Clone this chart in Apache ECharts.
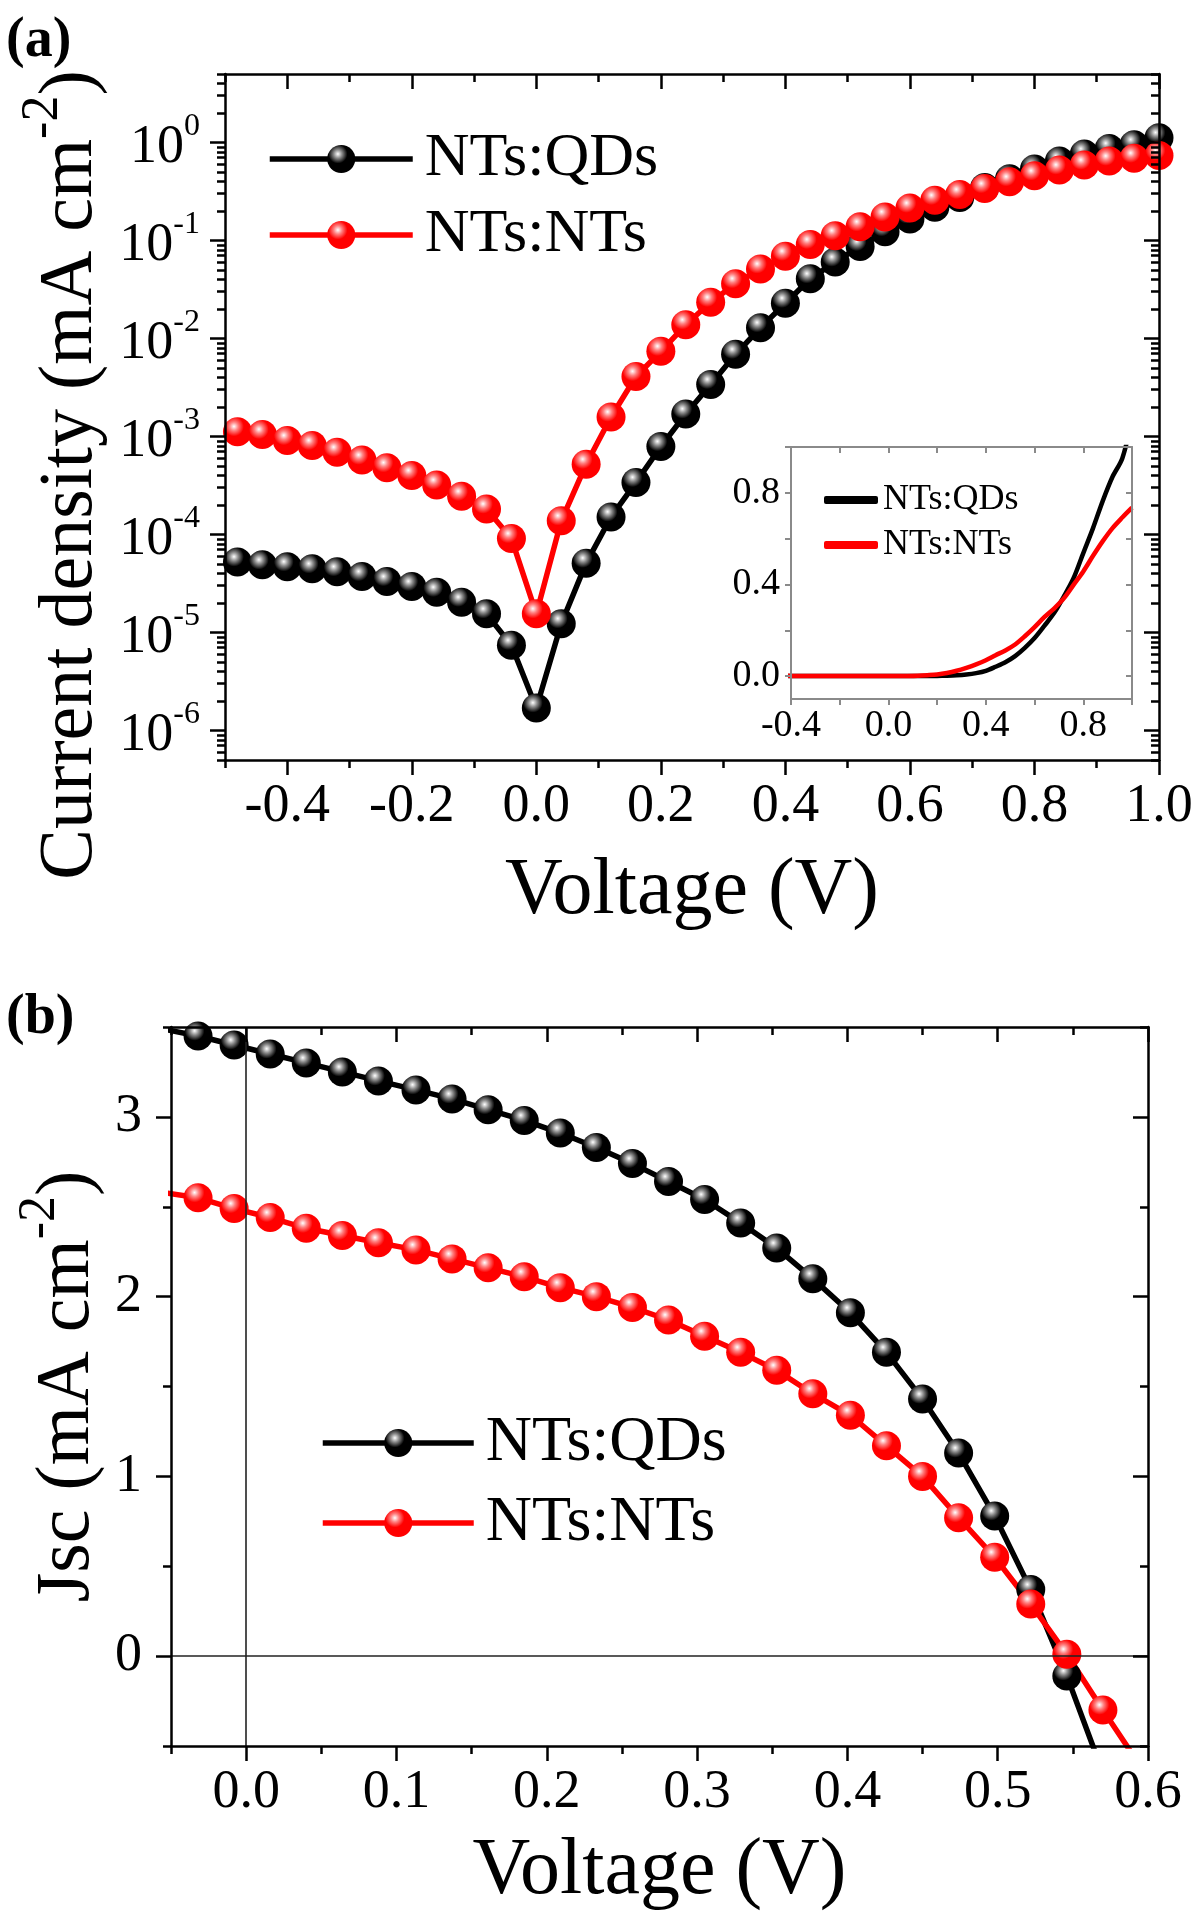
<!DOCTYPE html>
<html><head><meta charset="utf-8">
<script src="https://cdn.jsdelivr.net/npm/echarts@6/dist/echarts.min.js"></script>
<style>html,body{margin:0;padding:0;background:#fff;}#chart{width:1200px;height:1918px;}</style>
</head><body><div id="chart"></div>
<script>
// ---------- Panel (a): J-V, log scale ----------
const seriesNames = ['NTs:QDs', 'NTs:NTs'];
const voltageA = [-0.48,-0.44,-0.40,-0.36,-0.32,-0.28,-0.24,-0.20,-0.16,-0.12,-0.08,-0.04,0.00,0.04,0.08,0.12,0.16,0.20,0.24,0.28,0.32,0.36,0.40,0.44,0.48,0.52,0.56,0.60,0.64,0.68,0.72,0.76,0.80,0.84,0.88,0.92,0.96,1.00];
const currentQDsA = [5.25e-5,4.9e-5,4.68e-5,4.47e-5,4.17e-5,3.72e-5,3.31e-5,2.95e-5,2.57e-5,2.04e-5,1.55e-5,7.4e-6,1.7e-6,1.23e-5,5.1e-5,1.51e-4,3.4e-4,7.9e-4,1.7e-3,3.4e-3,6.9e-3,0.0129,0.0229,0.0407,0.0603,0.0871,0.123,0.166,0.219,0.275,0.347,0.427,0.537,0.646,0.765,0.87,0.95,1.12];
const currentNTsA = [1.12e-3,1.05e-3,9.1e-4,8.1e-4,6.9e-4,5.75e-4,4.8e-4,4.0e-4,3.2e-4,2.45e-4,1.82e-4,9.1e-5,1.55e-5,1.38e-4,5.2e-4,1.58e-3,4.1e-3,7.4e-3,0.0138,0.0234,0.0363,0.0513,0.0692,0.0912,0.112,0.138,0.174,0.214,0.257,0.295,0.339,0.398,0.457,0.525,0.589,0.646,0.692,0.735];
const xRangeA = [-0.5, 1.0];
const yRangeA = [5e-7, 5];
const xTicksA = [-0.4,-0.2,0,0.2,0.4,0.6,0.8,1.0];
const xMinorA = [-0.5,-0.3,-0.1,0.1,0.3,0.5,0.7,0.9];
const yDecadesA = [-6,-5,-4,-3,-2,-1,0];
// inset (linear)
const xRangeIn = [-0.4, 1.0];
const yRangeIn = [-0.1, 1.0];
const xTicksIn = [-0.4,-0.2,0,0.2,0.4,0.6,0.8,1.0];
const xLabelsIn = [-0.4,0,0.4,0.8];
const yTicksIn = [0,0.2,0.4,0.6,0.8,1.0];
const yLabelsIn = [0,0.4,0.8];
// ---------- Panel (b): Jsc-V ----------
const voltageB = [-0.056,-0.032,-0.008,0.016,0.040,0.064,0.088,0.113,0.137,0.161,0.185,0.209,0.233,0.257,0.281,0.305,0.329,0.353,0.377,0.402,0.426,0.450,0.474,0.498,0.522,0.546,0.570,0.594];
const jscQDs = [3.49,3.45,3.40,3.35,3.30,3.25,3.20,3.15,3.10,3.04,2.98,2.91,2.83,2.74,2.64,2.54,2.41,2.27,2.10,1.91,1.69,1.43,1.13,0.78,0.37,-0.11,-0.65];
const jscNTs = [2.58,2.55,2.49,2.44,2.38,2.34,2.30,2.26,2.21,2.16,2.11,2.05,2.00,1.94,1.87,1.78,1.69,1.59,1.46,1.34,1.17,1.00,0.77,0.55,0.29,0.01,-0.30,-0.60];
const xRangeB = [-0.05, 0.6];
const yRangeB = [-0.5, 3.5];
const xTicksB = [0,0.1,0.2,0.3,0.4,0.5,0.6];
const xMinorB = [-0.05,0.05,0.15,0.25,0.35,0.45,0.55];
const yTicksB = [0,1,2,3];
const yMinorB = [-0.5,0.5,1.5,2.5,3.5];

const FONT = 'Liberation Serif';
const lg = Math.log10;
const yMinorA = [];
for (let n = -7; n <= 0; n++) for (let k = 2; k <= 9; k++) {
  const v = lg(k) + n;
  if (v >= lg(yRangeA[0]) - 1e-9 && v <= lg(yRangeA[1]) + 1e-9) yMinorA.push(v);
}

function mkAxis(o) {
  const col = o.color || '#000', lw = o.lw || 2.5;
  return {
    type: 'value', gridIndex: o.grid, min: o.min, max: o.max, position: o.pos,
    splitLine: {show: false}, splitArea: {show: false},
    axisLine: {show: !!o.line, onZero: false, lineStyle: {color: col, width: lw}},
    axisTick: {show: true, customValues: o.ticks, inside: !!o.inside, length: o.len, lineStyle: {color: col, width: o.tw || lw}},
    minorTick: {show: false},
    axisLabel: o.labels ? {show: true, customValues: o.labels, margin: o.margin, formatter: o.fmt,
      color: '#000', fontFamily: FONT, fontSize: o.fs, rich: o.rich, hideOverlap: false} : {show: false},
    name: o.name || '', nameLocation: 'middle', nameGap: o.nameGap || 0, nameMoveOverlap: false,
    nameTextStyle: o.nameStyle || {}, silent: true, z: 10
  };
}
const f1 = v => (Math.abs(v) < 1e-9 ? 0 : v).toFixed(1);
const supRich = {
  n: {fontFamily: FONT, fontSize: 54, color: '#000', padding: [10, 0, 0, 0]},
  s: {fontFamily: FONT, fontSize: 32, color: '#000', verticalAlign: 'top'}
};
function titleRich(shift) {
  return {
    b: {fontFamily: FONT, fontSize: 76, color: '#000', padding: [16, 0, 0, shift < 0 ? -shift : 0]},
    s: {fontFamily: FONT, fontSize: 52, color: '#000', verticalAlign: 'top'},
    e: {fontFamily: FONT, fontSize: 76, color: '#000', padding: [16, shift > 0 ? shift : 0, 0, 0]}
  };
}
const yA = [lg(yRangeA[0]), lg(yRangeA[1])];
const nameStyle = {fontFamily: FONT, fontSize: 80, color: '#000'};
const yNameStyle = {fontFamily: FONT, fontSize: 76, color: '#000'};

const xAxes = [
  mkAxis({grid: 0, min: xRangeA[0], max: xRangeA[1], pos: 'bottom', line: true, ticks: xTicksA, len: 15,
    labels: xTicksA, fmt: f1, fs: 54, margin: 20, name: 'Voltage (V)', nameGap: 92, nameStyle: nameStyle}),
  mkAxis({grid: 0, min: xRangeA[0], max: xRangeA[1], pos: 'bottom', ticks: xMinorA, len: 8}),
  mkAxis({grid: 0, min: xRangeA[0], max: xRangeA[1], pos: 'top', line: true, ticks: xTicksA, len: 15, inside: true}),
  mkAxis({grid: 0, min: xRangeA[0], max: xRangeA[1], pos: 'top', ticks: xMinorA, len: 8, inside: true}),
  mkAxis({grid: 1, min: xRangeIn[0], max: xRangeIn[1], pos: 'bottom', line: true, ticks: xTicksIn, len: 6,
    color: '#8a8a8a', lw: 2, labels: xLabelsIn, fmt: f1, fs: 38, margin: 8}),
  mkAxis({grid: 1, min: xRangeIn[0], max: xRangeIn[1], pos: 'top', line: true, ticks: xTicksIn, len: 6, inside: true, color: '#8a8a8a', lw: 2}),
  mkAxis({grid: 2, min: xRangeB[0], max: xRangeB[1], pos: 'bottom', line: true, ticks: xTicksB, len: 15,
    labels: xTicksB, fmt: f1, fs: 54, margin: 20, name: 'Voltage (V)', nameGap: 86, nameStyle: nameStyle}),
  mkAxis({grid: 2, min: xRangeB[0], max: xRangeB[1], pos: 'bottom', ticks: xMinorB, len: 8}),
  mkAxis({grid: 2, min: xRangeB[0], max: xRangeB[1], pos: 'top', line: true, ticks: xTicksB, len: 15, inside: true}),
  mkAxis({grid: 2, min: xRangeB[0], max: xRangeB[1], pos: 'top', ticks: xMinorB, len: 8, inside: true})
];
const yAxes = [
  mkAxis({grid: 0, min: yA[0], max: yA[1], pos: 'left', line: true, ticks: yDecadesA, len: 15,
    labels: yDecadesA, fmt: v => '{n|10}{s|' + Math.round(v) + '}', rich: supRich, fs: 54, margin: 25,
    name: '{b|Current density (mA cm}{s|-2}{e|)}', nameGap: 116,
    nameStyle: Object.assign({rich: titleRich(116)}, yNameStyle)}),
  mkAxis({grid: 0, min: yA[0], max: yA[1], pos: 'left', ticks: yMinorA, len: 8}),
  mkAxis({grid: 0, min: yA[0], max: yA[1], pos: 'right', line: true, ticks: yDecadesA, len: 15, inside: true}),
  mkAxis({grid: 0, min: yA[0], max: yA[1], pos: 'right', ticks: yMinorA, len: 8, inside: true}),
  mkAxis({grid: 1, min: yRangeIn[0], max: yRangeIn[1], pos: 'left', line: true, ticks: yTicksIn, len: 6,
    color: '#8a8a8a', lw: 2, labels: yLabelsIn, fmt: f1, fs: 38, margin: 11}),
  mkAxis({grid: 1, min: yRangeIn[0], max: yRangeIn[1], pos: 'right', line: true, ticks: yTicksIn, len: 6, inside: true, color: '#8a8a8a', lw: 2}),
  mkAxis({grid: 2, min: yRangeB[0], max: yRangeB[1], pos: 'left', line: true, ticks: yTicksB, len: 15,
    labels: yTicksB, fmt: v => String(Math.round(v)), fs: 54, margin: 29,
    name: '{b|Jsc (mA cm}{s|-2}{e|)}', nameGap: 65,
    nameStyle: Object.assign({rich: titleRich(0)}, yNameStyle)}),
  mkAxis({grid: 2, min: yRangeB[0], max: yRangeB[1], pos: 'left', ticks: yMinorB, len: 8}),
  mkAxis({grid: 2, min: yRangeB[0], max: yRangeB[1], pos: 'right', line: true, ticks: yTicksB, len: 15, inside: true}),
  mkAxis({grid: 2, min: yRangeB[0], max: yRangeB[1], pos: 'right', ticks: yMinorB, len: 8, inside: true})
];

function sphere(base, mid) {
  return {type: 'radial', x: 0.38, y: 0.32, r: 0.68, colorStops: [
    {offset: 0, color: '#ffffff'}, {offset: 0.22, color: mid}, {offset: 0.5, color: base}, {offset: 1, color: base}]};
}
const styleBlack = sphere('#000000', '#8a8a8a');
const styleRed = sphere('#ff0000', '#ff8080');

function markerSeries(name, xi, yi, data, color, fill, extra) {
  return Object.assign({
    name: name, type: 'line', xAxisIndex: xi, yAxisIndex: yi, data: data,
    symbol: 'circle', symbolSize: 29, showAllSymbol: true, clip: true,
    lineStyle: {color: color, width: 5.5}, itemStyle: {color: fill, borderWidth: 0},
    emphasis: {disabled: true}, animation: false, z: 3
  }, extra || {});
}
function lineSeries(name, xi, yi, data, color) {
  return {name: name, type: 'line', xAxisIndex: xi, yAxisIndex: yi, data: data, symbol: 'none', showSymbol: false,
    smooth: 0.3, clip: true, lineStyle: {color: color, width: 4.5}, itemStyle: {color: color},
    emphasis: {disabled: true}, animation: false, z: 6};
}

const series = [
  markerSeries(seriesNames[0], 0, 0, voltageA.map((v, i) => [v, lg(currentQDsA[i])]), '#000', styleBlack),
  markerSeries(seriesNames[1], 0, 0, voltageA.map((v, i) => [v, lg(currentNTsA[i])]), '#ff0000', styleRed),
  lineSeries(seriesNames[0], 4, 4, voltageA.map((v, i) => [v, currentQDsA[i]]), '#000'),
  lineSeries(seriesNames[1], 4, 4, voltageA.map((v, i) => [v, currentNTsA[i]]), '#ff0000'),
  markerSeries(seriesNames[0], 6, 6, jscQDs.map((j, i) => [voltageB[i], j]), '#000', styleBlack, {
    markLine: {silent: true, symbol: ['none', 'none'], label: {show: false}, animation: false,
      lineStyle: {color: '#222', width: 1.6, type: 'solid'}, emphasis: {disabled: true},
      data: [{xAxis: 0}, {yAxis: 0}]}
  }),
  markerSeries(seriesNames[1], 6, 6, jscNTs.map((j, i) => [voltageB[i], j]), '#ff0000', styleRed)
];

const legendText = (fs) => ({fontFamily: FONT, fontSize: fs, lineHeight: fs, color: '#000'});
const option = {
  backgroundColor: '#ffffff',
  animation: false,
  grid: [
    {left: 225, top: 74, width: 934, height: 686, outerBoundsMode: 'none', containLabel: false},
    {left: 791, top: 447, width: 341, height: 252, outerBoundsMode: 'none', containLabel: false,
      show: true, backgroundColor: '#ffffff', borderWidth: 0, z: 1},
    {left: 171, top: 1027, width: 977, height: 719, outerBoundsMode: 'none', containLabel: false}
  ],
  xAxis: xAxes,
  yAxis: yAxes,
  legend: [
    {data: seriesNames, orient: 'vertical', left: 267, top: 128, padding: 0, itemWidth: 143, itemHeight: 35,
      itemGap: 14, selectedMode: false, lineStyle: {width: 5.5},
      textStyle: Object.assign(legendText(62), {padding: [0, 0, 0, 7]})},
    {data: [{name: seriesNames[0], icon: 'roundRect', itemStyle: {color: '#000', borderWidth: 0}},
            {name: seriesNames[1], icon: 'roundRect', itemStyle: {color: '#ff0000', borderWidth: 0}}],
      orient: 'vertical', left: 824, top: 482, padding: 0, itemWidth: 54, itemHeight: 8, itemGap: 9,
      selectedMode: false, textStyle: legendText(36), z: 12},
    {data: seriesNames, orient: 'vertical', left: 320, top: 1411, padding: 0, itemWidth: 151, itemHeight: 35,
      itemGap: 16, selectedMode: false, lineStyle: {width: 5.5},
      textStyle: Object.assign(legendText(64), {padding: [0, 0, 0, 7]})}
  ],
  graphic: [
    {type: 'text', left: 6, top: 14, z: 20, style: {text: '(a)', font: 'bold 56px "Liberation Serif"', fill: '#000'}},
    {type: 'text', left: 6, top: 991, z: 20, style: {text: '(b)', font: 'bold 56px "Liberation Serif"', fill: '#000'}}
  ],
  series: series
};
const chart = echarts.init(document.getElementById('chart'), null, {renderer: 'canvas'});
chart.setOption(option);
</script></body></html>
